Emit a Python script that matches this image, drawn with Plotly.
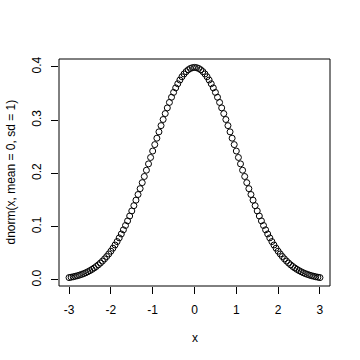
import plotly.graph_objects as go

x_vals = [-3.00, -2.95, -2.90, -2.85, -2.80, -2.75, -2.70, -2.65, -2.60, -2.55,
          -2.50, -2.45, -2.40, -2.35, -2.30, -2.25, -2.20, -2.15, -2.10, -2.05,
          -2.00, -1.95, -1.90, -1.85, -1.80, -1.75, -1.70, -1.65, -1.60, -1.55,
          -1.50, -1.45, -1.40, -1.35, -1.30, -1.25, -1.20, -1.15, -1.10, -1.05,
          -1.00, -0.95, -0.90, -0.85, -0.80, -0.75, -0.70, -0.65, -0.60, -0.55,
          -0.50, -0.45, -0.40, -0.35, -0.30, -0.25, -0.20, -0.15, -0.10, -0.05,
          0.00,
          0.05, 0.10, 0.15, 0.20, 0.25, 0.30, 0.35, 0.40, 0.45, 0.50,
          0.55, 0.60, 0.65, 0.70, 0.75, 0.80, 0.85, 0.90, 0.95, 1.00,
          1.05, 1.10, 1.15, 1.20, 1.25, 1.30, 1.35, 1.40, 1.45, 1.50,
          1.55, 1.60, 1.65, 1.70, 1.75, 1.80, 1.85, 1.90, 1.95, 2.00,
          2.05, 2.10, 2.15, 2.20, 2.25, 2.30, 2.35, 2.40, 2.45, 2.50,
          2.55, 2.60, 2.65, 2.70, 2.75, 2.80, 2.85, 2.90, 2.95, 3.00]

y_vals = [0.00443, 0.00514, 0.00595, 0.00687, 0.00792, 0.00909, 0.01042, 0.01191, 0.01358, 0.01545,
          0.01753, 0.01984, 0.02239, 0.02522, 0.02833, 0.03174, 0.03547, 0.03955, 0.04398, 0.04879,
          0.05399, 0.05959, 0.06562, 0.07207, 0.07895, 0.08628, 0.09405, 0.10226, 0.11092, 0.12001,
          0.12952, 0.13943, 0.14973, 0.16039, 0.17137, 0.18265, 0.19419, 0.20594, 0.21785, 0.22988,
          0.24197, 0.25406, 0.26609, 0.27798, 0.28969, 0.30114, 0.31225, 0.32297, 0.33322, 0.34294,
          0.35207, 0.36053, 0.36827, 0.37524, 0.38139, 0.38667, 0.39104, 0.39448, 0.39695, 0.39844,
          0.39894,
          0.39844, 0.39695, 0.39448, 0.39104, 0.38667, 0.38139, 0.37524, 0.36827, 0.36053, 0.35207,
          0.34294, 0.33322, 0.32297, 0.31225, 0.30114, 0.28969, 0.27798, 0.26609, 0.25406, 0.24197,
          0.22988, 0.21785, 0.20594, 0.19419, 0.18265, 0.17137, 0.16039, 0.14973, 0.13943, 0.12952,
          0.12001, 0.11092, 0.10226, 0.09405, 0.08628, 0.07895, 0.07207, 0.06562, 0.05959, 0.05399,
          0.04879, 0.04398, 0.03955, 0.03547, 0.03174, 0.02833, 0.02522, 0.02239, 0.01984, 0.01753,
          0.01545, 0.01358, 0.01191, 0.01042, 0.00909, 0.00792, 0.00687, 0.00595, 0.00514, 0.00443]

x_ticks = [-3, -2, -1, 0, 1, 2, 3]
x_tick_text = ["-3", "-2", "-1", "0", "1", "2", "3"]
y_ticks = [0.0, 0.1, 0.2, 0.3, 0.4]
y_tick_text = ["0.0", "0.1", "0.2", "0.3", "0.4"]
x_title = "x"
y_title = "dnorm(x, mean = 0, sd = 1)"

# R-style 4% axis extension
xmin, xmax = min(x_vals), max(x_vals)
ymin, ymax = min(y_vals), max(y_vals)
xpad = (xmax - xmin) * 0.04
ypad = (ymax - ymin) * 0.04

FONT = "Liberation Sans, Arial, Helvetica, sans-serif"

fig = go.Figure()
fig.add_trace(go.Scatter(
    x=x_vals, y=y_vals, mode="markers",
    marker=dict(symbol="circle-open", size=6, color="black", line=dict(width=1, color="black")),
    showlegend=False, hoverinfo="skip",
))

fig.update_layout(
    width=360, height=360,
    margin=dict(l=59, r=30, t=59, b=74, pad=0),
    paper_bgcolor="white", plot_bgcolor="white",
    font=dict(family=FONT, size=12, color="black"),
    xaxis=dict(
        range=[xmin - xpad, xmax + xpad], showgrid=False, zeroline=False, showline=False,
        tickmode="array", tickvals=x_ticks, ticktext=x_tick_text,
        ticks="outside", ticklen=7, tickwidth=1, tickcolor="black",
        ticklabelstandoff=6,
        tickfont=dict(family=FONT, size=12, color="black"),
    ),
    yaxis=dict(
        range=[ymin - ypad, ymax + ypad], showgrid=False, zeroline=False, showline=False,
        tickmode="array", tickvals=y_ticks, ticktext=y_tick_text,
        ticks="outside", ticklen=7, tickwidth=1, tickcolor="black",
        tickangle=-90, ticklabelstandoff=5,
        tickfont=dict(family=FONT, size=12, color="black"),
    ),
    shapes=[dict(type="rect", xref="paper", yref="paper", x0=0, x1=1, y0=0, y1=1,
                 line=dict(color="black", width=1), fillcolor="rgba(0,0,0,0)", layer="above")],
    annotations=[
        dict(text=x_title, xref="paper", yref="paper", x=0.5, y=-(338 - 286) / 227,
             xanchor="center", yanchor="middle", showarrow=False,
             font=dict(family=FONT, size=12, color="black")),
        dict(text=y_title, xref="paper", yref="paper", x=-(59 - 10) / 271, y=0.5,
             xanchor="center", yanchor="middle", textangle=-90, showarrow=False,
             font=dict(family=FONT, size=12, color="black")),
    ],
)

fig.write_html("out.html")
